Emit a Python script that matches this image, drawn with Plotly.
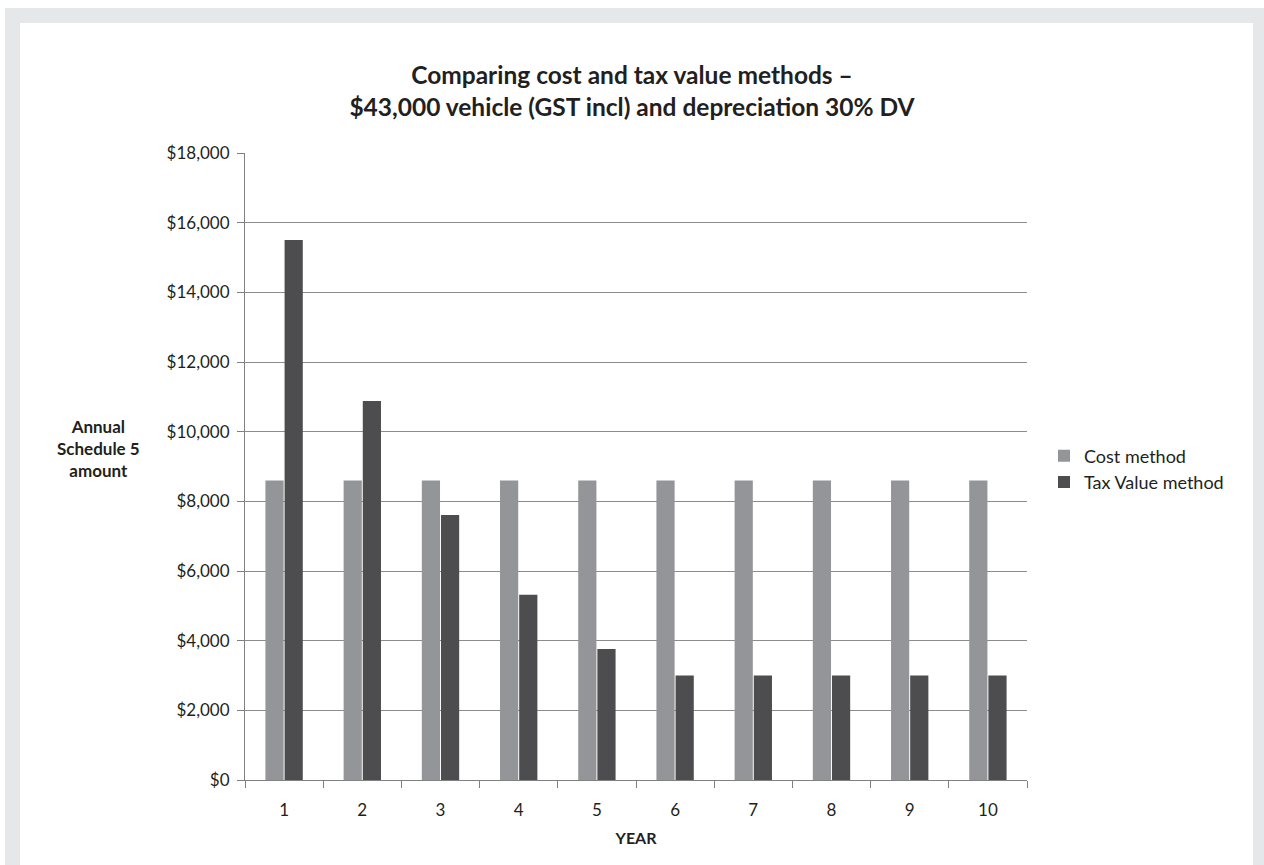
import plotly.graph_objects as go

years = ["1", "2", "3", "4", "5", "6", "7", "8", "9", "10"]
cost_method = [8600, 8600, 8600, 8600, 8600, 8600, 8600, 8600, 8600, 8600]
tax_value_method = [15500, 10880, 7610, 5320, 3760, 3000, 3000, 3000, 3000, 3000]
y_ticks = [0, 2000, 4000, 6000, 8000, 10000, 12000, 14000, 16000, 18000]
y_tick_labels = ["$0", "$2,000", "$4,000", "$6,000", "$8,000", "$10,000",
                 "$12,000", "$14,000", "$16,000", "$18,000"]

FONT = "Lato"
TXT = "#231f20"
W, H = 1264, 865
L, R, T, B = 245, 1027, 153, 780

def px(x):
    return (x - L) / (R - L)

def py(y):
    return (B - y) / (B - T)

fig = go.Figure()
fig.add_trace(go.Bar(x=years, y=cost_method, name="Cost method",
                     marker=dict(color="#939598", line=dict(width=0))))
fig.add_trace(go.Bar(x=years, y=tax_value_method, name="Tax Value method",
                     marker=dict(color="#4d4d4f", line=dict(width=0))))

grey = "#e6e7e8"
shapes = [
    dict(type="rect", xref="paper", yref="paper", x0=px(5), x1=px(1264), y0=py(8), y1=py(23),
         fillcolor=grey, line=dict(width=0), layer="below"),
    dict(type="rect", xref="paper", yref="paper", x0=px(5), x1=px(20), y0=py(8), y1=py(865),
         fillcolor=grey, line=dict(width=0), layer="below"),
    dict(type="rect", xref="paper", yref="paper", x0=px(1253), x1=px(1264), y0=py(8), y1=py(865),
         fillcolor=grey, line=dict(width=0), layer="below"),
]

fig.update_layout(
    width=W, height=H,
    margin=dict(l=L, r=W - R, t=T, b=H - B, pad=0),
    paper_bgcolor="white", plot_bgcolor="white",
    font=dict(family=FONT, color=TXT, size=17),
    barmode="group", bargap=0.51, bargroupgap=0.05,
    title=dict(text="<b>Comparing cost and tax value methods –<br>$43,000 vehicle (GST incl) and depreciation 30% DV</b>",
               x=px(636), xanchor="center", y=1 - 84 / H, yanchor="middle",
               font=dict(size=24.5, family=FONT, color=TXT)),
    xaxis=dict(type="category", tickson="boundaries", ticks="outside", ticklen=7,
               tickcolor="#808080", showline=True, linecolor="#808080", linewidth=1,
               showgrid=False, tickfont=dict(size=17), ticklabelstandoff=15,
               title=dict(text="<b>YEAR</b>", font=dict(size=16), standoff=13)),
    yaxis=dict(range=[0, 18000], tickvals=y_ticks, ticktext=y_tick_labels,
               ticks="outside", ticklen=7, tickcolor="#808080",
               showline=True, linecolor="#808080", linewidth=1,
               showgrid=True, gridcolor="#8c8c8c", gridwidth=1,
               zeroline=False, tickfont=dict(size=17), ticklabelstandoff=4),
    legend=dict(x=px(1044), y=py(469), xanchor="left", yanchor="middle",
                font=dict(size=18), bgcolor="rgba(0,0,0,0)", tracegroupgap=2),
    showlegend=True,
    shapes=shapes,
    annotations=[dict(text="<b>Annual<br>Schedule 5<br>amount</b>", xref="paper", yref="paper",
                      x=px(98), y=py(448), xanchor="center", yanchor="middle",
                      showarrow=False, font=dict(size=17, family=FONT, color=TXT), align="center")],
)

fig.write_html("out.html")
